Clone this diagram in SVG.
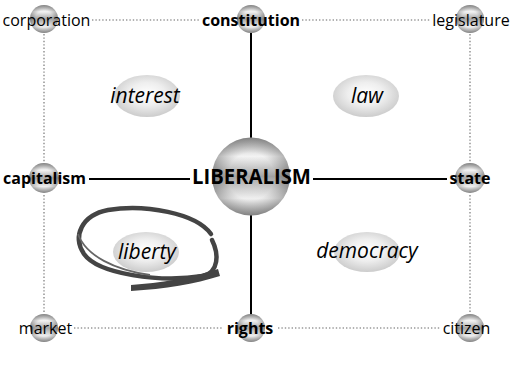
<svg xmlns="http://www.w3.org/2000/svg" width="511" height="372" viewBox="0 0 511 372">
<defs>
<linearGradient id="sv" x1="0" y1="0" x2="0" y2="1">
<stop offset="0" stop-color="#b4b4b4"/>
<stop offset="0.24" stop-color="#fafafa"/>
<stop offset="0.5" stop-color="#a6a6a6"/>
<stop offset="0.78" stop-color="#f6f6f6"/>
<stop offset="1" stop-color="#b4b4b4"/>
</linearGradient>
<radialGradient id="sr" cx="0.5" cy="0.5" r="0.5">
<stop offset="0" stop-color="#000" stop-opacity="0"/>
<stop offset="0.6" stop-color="#000" stop-opacity="0.03"/>
<stop offset="1" stop-color="#000" stop-opacity="0.28"/>
</radialGradient>
<radialGradient id="eg" cx="0.5" cy="0.45" r="0.55">
<stop offset="0" stop-color="#ffffff"/>
<stop offset="0.5" stop-color="#eeeeee"/>
<stop offset="1" stop-color="#cccccc"/>
</radialGradient>
<g id="sph"><circle r="1" fill="url(#sv)"/><circle r="1" fill="url(#sr)"/></g>
</defs>
<style>
.dot{stroke:#999;stroke-width:1.6;stroke-dasharray:1.4 2;fill:none}
.sol{stroke:#000;stroke-width:2;fill:none}
.lbl{font-family:"Open Sans","DejaVu Sans",sans-serif;font-size:16px;fill:#000;text-anchor:middle}
.b{font-weight:bold;font-size:16px}
.it{font-family:"Open Sans","DejaVu Sans",sans-serif;font-style:italic;font-size:21px;fill:#000;text-anchor:middle}
.ell{fill:url(#eg)}
</style>
<rect width="511" height="372" fill="#fff"/>
<g id="connectors">
<line class="dot" x1="92" y1="20" x2="200" y2="20"/>
<line class="dot" x1="302" y1="20" x2="430" y2="20"/>
<line class="dot" x1="74" y1="328" x2="222" y2="328"/>
<line class="dot" x1="278" y1="328" x2="440" y2="328"/>
<line class="dot" x1="44" y1="34" x2="44" y2="162"/>
<line class="dot" x1="44" y1="195" x2="44" y2="314"/>
<line class="dot" x1="470" y1="34" x2="470" y2="162"/>
<line class="dot" x1="470" y1="195" x2="470" y2="314"/>
<line class="sol" x1="251" y1="33" x2="251" y2="138"/>
<line class="sol" x1="251" y1="215" x2="251" y2="316"/>
<line class="sol" x1="89" y1="179" x2="190" y2="179"/>
<line class="sol" x1="313" y1="179" x2="447" y2="179"/>
</g>
<g id="interest"><ellipse class="ell" cx="147" cy="96" rx="33" ry="21"/><text class="it" x="145" y="103">interest</text></g>
<g id="law"><ellipse class="ell" cx="366" cy="96" rx="33" ry="21"/><text class="it" x="367" y="103">law</text></g>
<g id="liberty"><ellipse class="ell" cx="146" cy="252" rx="33" ry="20"/><text class="it" x="147" y="259">liberty</text>
<path d="M 211 234 C 196 213, 145 204, 108 210 C 82 215, 72 236, 84 254 C 98 274, 160 283, 203 276 C 219 272, 219 254, 212 240" fill="none" stroke="#444" stroke-width="4.5" stroke-linecap="round"/>
<path d="M 218 269 C 190 278, 160 283, 131 285 L 131 291 C 165 289, 195 284, 220 276 Z" fill="#444"/>
<path d="M 78 234 C 86 256, 115 270, 150 275" fill="none" stroke="#666" stroke-width="1.8"/>
</g>
<g id="democracy"><ellipse class="ell" cx="367" cy="252" rx="33" ry="20"/><text class="it" x="367" y="258">democracy</text></g>
<g id="corporation"><use href="#sph" transform="translate(44,19) scale(14)"/><text class="lbl" x="46.5" y="26">corporation</text></g>
<g id="constitution"><use href="#sph" transform="translate(251,19) scale(14)"/><text class="lbl b" x="251" y="26">constitution</text></g>
<g id="legislature"><use href="#sph" transform="translate(470,19) scale(14)"/><text class="lbl" x="471" y="26">legislature</text></g>
<g id="capitalism"><use href="#sph" transform="translate(44,178) scale(15)"/><text class="lbl b" x="44.5" y="184">capitalism</text></g>
<g id="state"><use href="#sph" transform="translate(470,178) scale(15)"/><text class="lbl b" x="470" y="184">state</text></g>
<g id="market"><use href="#sph" transform="translate(44,328) scale(14)"/><text class="lbl" x="45.5" y="334">market</text></g>
<g id="rights"><use href="#sph" transform="translate(251,328) scale(14)"/><text class="lbl b" x="250" y="334">rights</text></g>
<g id="citizen"><use href="#sph" transform="translate(470,328) scale(14)"/><text class="lbl" x="466.5" y="334">citizen</text></g>
<g id="liberalism"><use href="#sph" transform="translate(251,176.5) scale(39)"/><text class="lbl" x="251.5" y="184" style="font-weight:bold;font-size:21px" textLength="119" lengthAdjust="spacingAndGlyphs">LIBERALISM</text></g>
</svg>
